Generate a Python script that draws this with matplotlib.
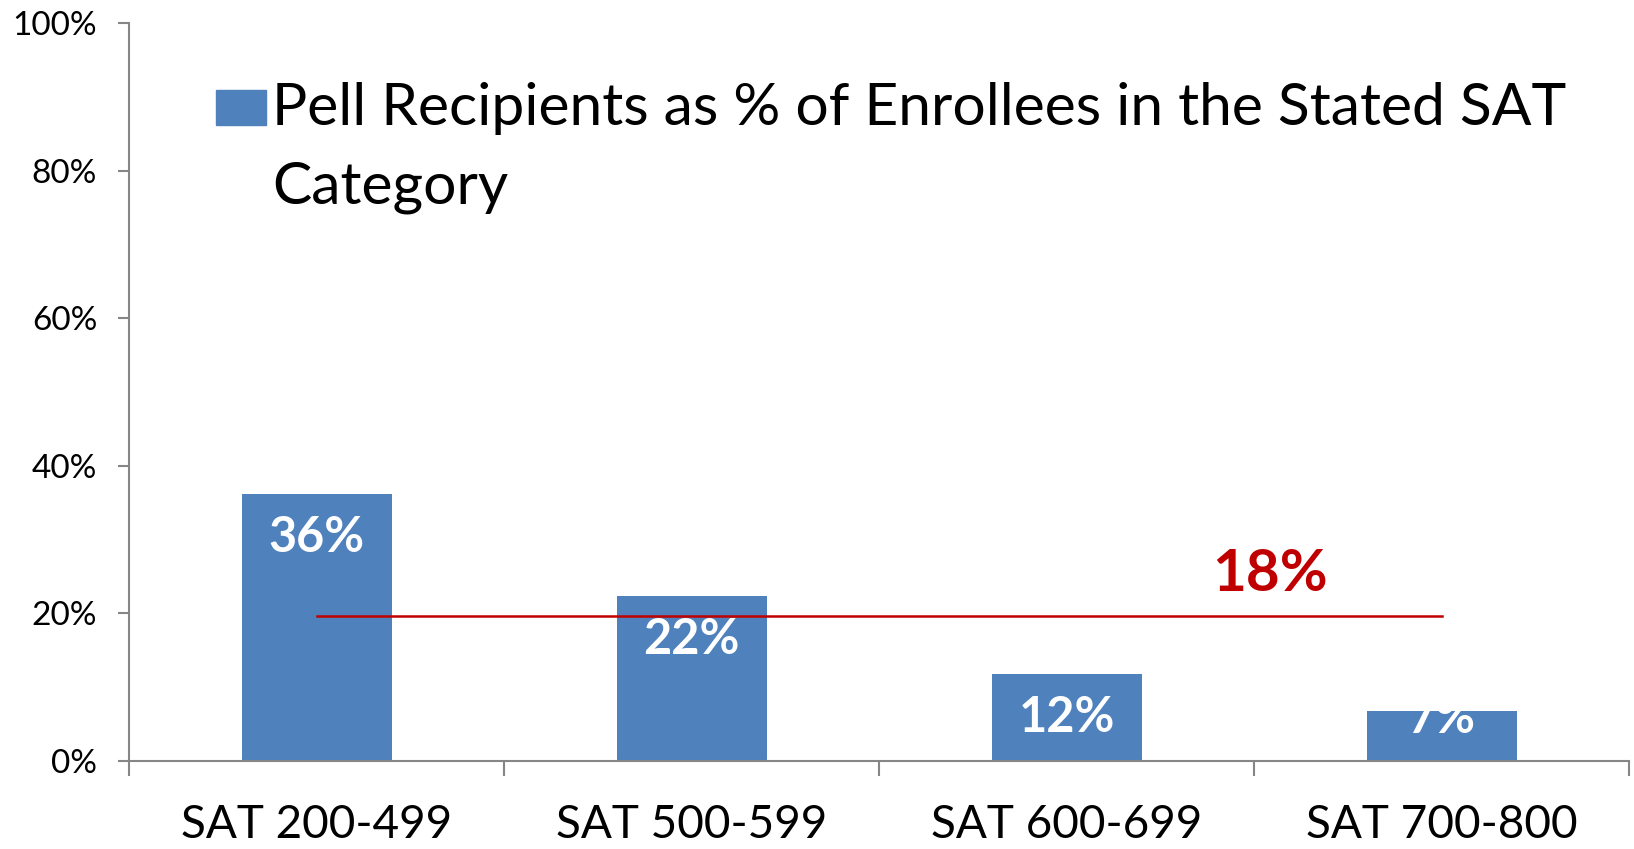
import matplotlib
matplotlib.use('Agg')
import matplotlib.pyplot as plt
from matplotlib.legend_handler import HandlerPatch
from matplotlib.patches import Rectangle, Patch
from matplotlib.ticker import PercentFormatter, FixedLocator

plt.rcParams['font.family'] = ['Lato', 'DejaVu Sans']

# data
categories = ['SAT 200-499', 'SAT 500-599', 'SAT 600-699', 'SAT 700-800']
pell_share = [0.362, 0.224, 0.118, 0.068]
bar_labels = ['36%', '22%', '12%', '7%']
overall_value = 0.197
overall_label = '18%'
series_name = 'Pell Recipients as % of Enrollees in the Stated SAT\nCategory'

BLUE = '#4F81BD'
RED = '#C00000'
GREY = '#868686'

fig = plt.figure(figsize=(16.34, 8.49), dpi=100)
ax = fig.add_axes([0.079, 0.1037, 0.918, 0.8693])

x = list(range(len(categories)))
bars = ax.bar(x, pell_share, width=0.4, color=BLUE, label=series_name, zorder=2)

# labels inside the bar tops, clipped to the bar
for rect, val, lab in zip(bars, pell_share, bar_labels):
    ypos = val - 0.059 if val > 0.1 else val - 0.011
    t = ax.text(rect.get_x() + rect.get_width() / 2, ypos, lab, color='white',
                fontsize=35, fontweight='bold', ha='center', va='center', zorder=3)
    t.set_clip_path(rect)

# overall average line
ax.plot([x[0], x[-1]], [overall_value, overall_value], color=RED, lw=1.8, zorder=4)
ax.text(2.543, 0.252, overall_label, color=RED, fontsize=42, fontweight='bold',
        ha='center', va='center', zorder=4)

ax.set_xlim(-0.5, len(categories) - 0.5)
ax.set_ylim(0, 1)
ax.yaxis.set_major_locator(FixedLocator([0, 0.2, 0.4, 0.6, 0.8, 1.0]))
ax.yaxis.set_major_formatter(PercentFormatter(1.0, decimals=0))
ax.set_xticks(x)
ax.set_xticklabels(categories)
ax.set_xticks([i - 0.5 for i in range(len(categories) + 1)], minor=True)

ax.tick_params(axis='x', which='major', length=0, labelsize=33, pad=31)
ax.tick_params(axis='x', which='minor', length=11, width=1.5, color=GREY)
ax.tick_params(axis='y', length=8, width=1.5, color=GREY, labelsize=24, pad=15)

for side in ['top', 'right']:
    ax.spines[side].set_visible(False)
for side in ['left', 'bottom']:
    ax.spines[side].set_color(GREY)
    ax.spines[side].set_linewidth(1.5)


def top_patch(legend, orig_handle, xdescent, ydescent, width, height, fontsize):
    h = 0.6 * fontsize
    return Rectangle((-xdescent, -ydescent + height - h - 0.05 * fontsize), width, h)


leg = ax.legend(handles=[Patch(color=BLUE, label=series_name)], loc='upper left',
                bbox_to_anchor=(0.058, 0.92), frameon=False, fontsize=42.3,
                handlelength=0.85, handleheight=3.05, handletextpad=0.1,
                borderpad=0, borderaxespad=0,
                handler_map={Patch: HandlerPatch(patch_func=top_patch)})
for txt in leg.get_texts():
    txt.set_linespacing(1.6)

fig.savefig('out.png', dpi=100)
